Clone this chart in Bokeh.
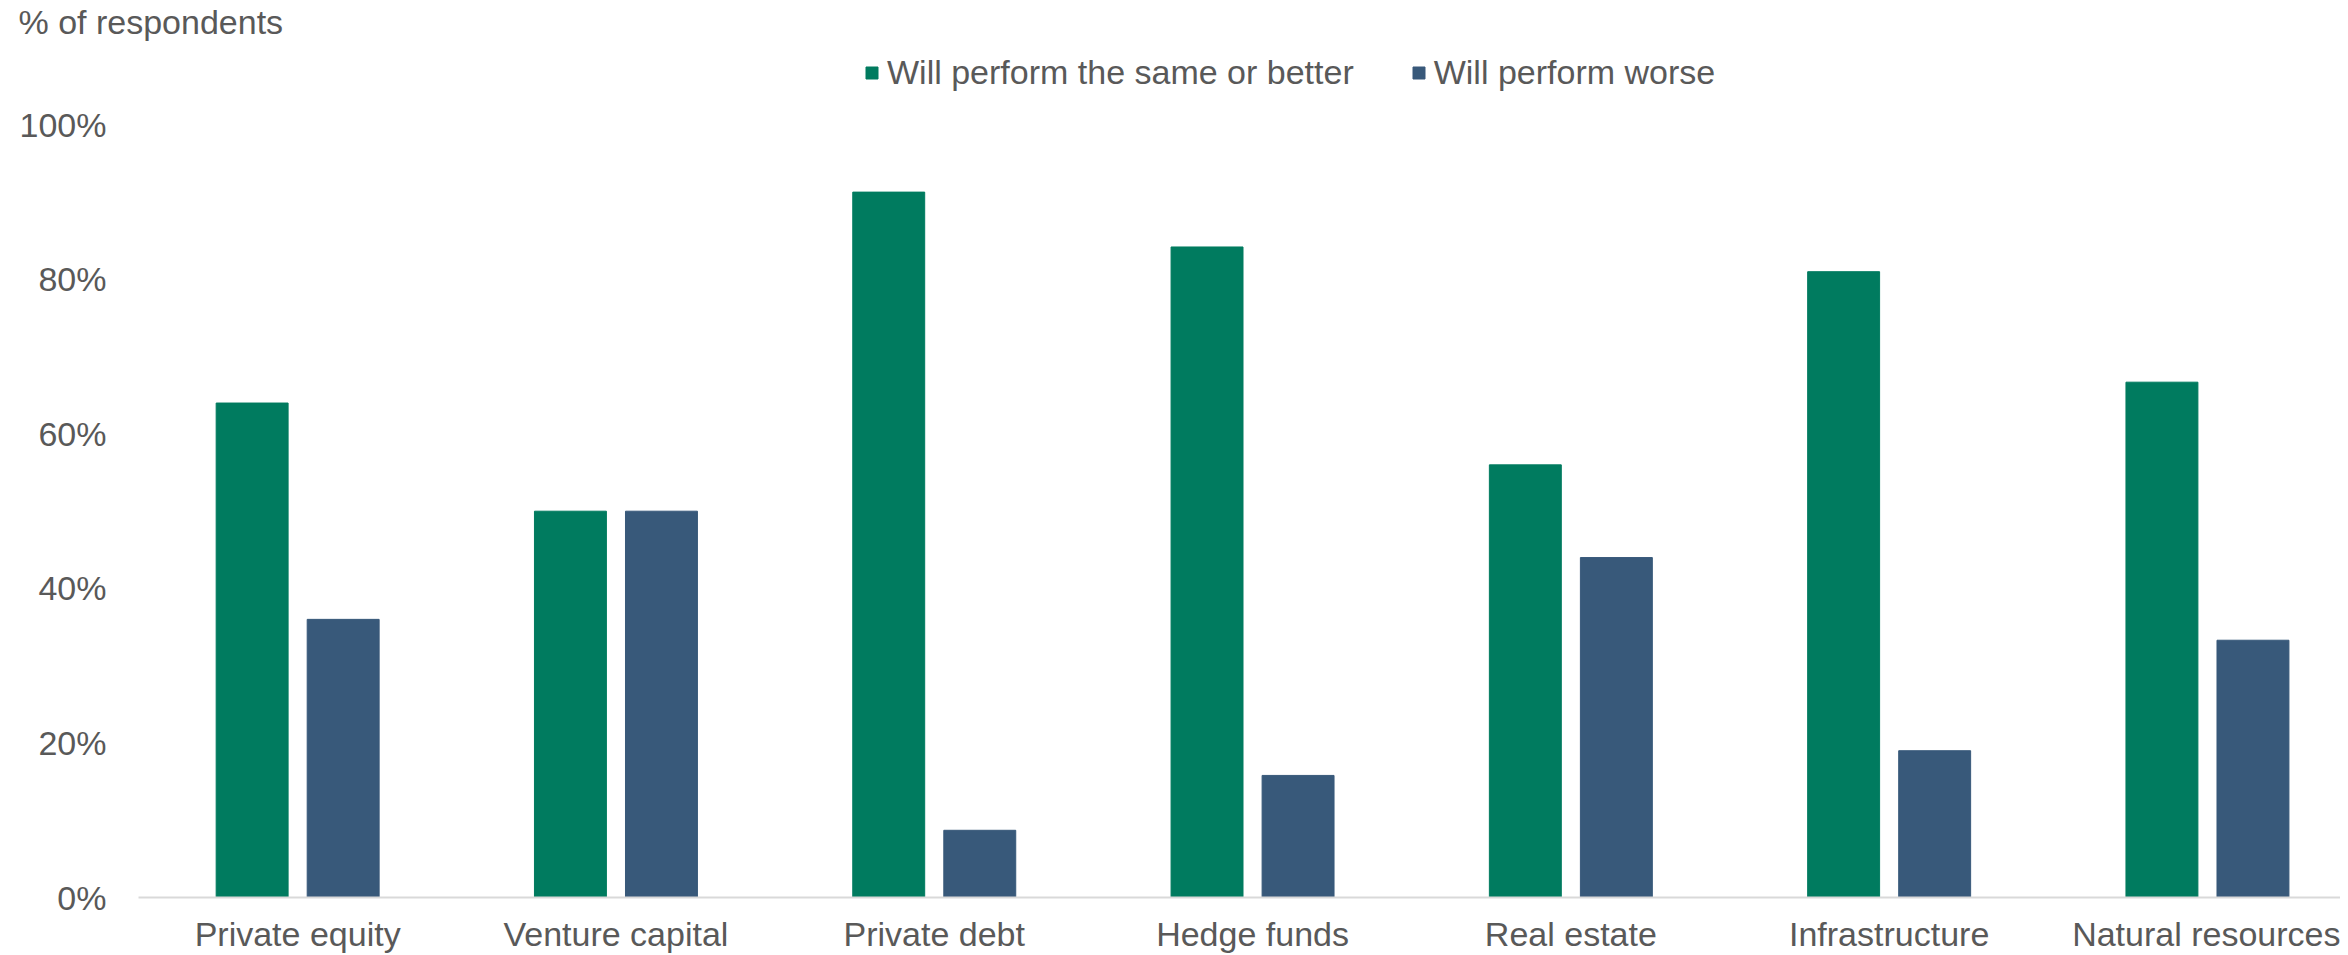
import numpy as np
from bokeh.plotting import figure
from bokeh.models import ColumnDataSource, Range1d, FixedTicker, PrintfTickFormatter, Title
from bokeh.embed import file_html
from bokeh.resources import INLINE

# ---- data ----
categories = ["Private equity", "Venture capital", "Private debt", "Hedge funds",
              "Real estate", "Infrastructure", "Natural resources"]
same_or_better = [64.0, 50.0, 91.3, 84.2, 56.0, 81.0, 66.7]
worse = [36.0, 50.0, 8.7, 15.8, 44.0, 19.0, 33.3]
series_names = ["Will perform the same or better", "Will perform worse"]
y_ticks = [0, 20, 40, 60, 80, 100]
title_text = "% of respondents"

# ---- style ----
GREEN = "#007b5f"
BLUE = "#38597a"
TXT = "#595959"
FONT = "Liberation Sans"
FS = "34px"

W, H = 2340, 955
LEFT = 138
BASE = 898          # screen y of the 0% line
TOP = 40            # expected frame top (below the title panel)
BOTTOM = H - BASE
band = 318.3
xmax = (W - LEFT) / band
ppu = 7.735
ymax = (BASE - TOP) / ppu

centers = np.arange(len(categories)) + 0.5
bw = 0.226
off = 0.143

src = ColumnDataSource(dict(g=same_or_better, b=worse,
                            xg=centers - off, xb=centers + off))

p = figure(width=W, height=H, output_backend="svg", toolbar_location=None,
           x_range=Range1d(0, xmax), y_range=Range1d(0, ymax),
           min_border_left=LEFT, min_border_bottom=BOTTOM, min_border_top=0,
           min_border_right=0, outline_line_color=None, background_fill_color="white",
           border_fill_color="white")

p.title = Title(text=title_text, align="left", offset=18 - LEFT, standoff=0,
                text_font=FONT, text_font_size=FS, text_color=TXT, text_font_style="normal")

p.vbar(x="xg", top="g", width=bw, source=src, color=GREEN, legend_label=series_names[0])
p.vbar(x="xb", top="b", width=bw, source=src, color=BLUE, legend_label=series_names[1])

p.xgrid.visible = False
p.ygrid.visible = False

# x axis with category labels
tick_pos = [float(c) for c in centers]
p.xaxis.ticker = FixedTicker(ticks=tick_pos)
p.xaxis.major_label_overrides = {t: c for t, c in zip(tick_pos, categories)}
p.xaxis.axis_line_color = "#d9d9d9"
p.xaxis.axis_line_width = 2
p.xaxis.major_tick_line_color = None
p.xaxis.minor_tick_line_color = None
p.xaxis.major_tick_out = 0
p.xaxis.major_tick_in = 0
p.xaxis.major_label_standoff = 17
p.xaxis.major_label_text_font = FONT
p.xaxis.major_label_text_font_size = FS
p.xaxis.major_label_text_color = TXT

# y axis
p.yaxis.ticker = FixedTicker(ticks=y_ticks)
p.yaxis.formatter = PrintfTickFormatter(format="%d%%")
p.yaxis.axis_line_color = None
p.yaxis.major_tick_line_color = None
p.yaxis.minor_tick_line_color = None
p.yaxis.major_tick_out = 0
p.yaxis.major_tick_in = 0
p.yaxis.major_label_standoff = 32
p.yaxis.major_label_text_font = FONT
p.yaxis.major_label_text_font_size = FS
p.yaxis.major_label_text_color = TXT

# legend
lg = p.legend[0]
lg.orientation = "horizontal"
lg.location = (726, 805)
lg.border_line_color = None
lg.background_fill_alpha = 0
lg.padding = 0
lg.margin = 0
lg.spacing = 57
lg.glyph_width = 15
lg.glyph_height = 15
lg.label_standoff = 8
lg.label_text_font = FONT
lg.label_text_font_size = FS
lg.label_text_color = TXT

open("out.html", "w").write(file_html(p, INLINE))
